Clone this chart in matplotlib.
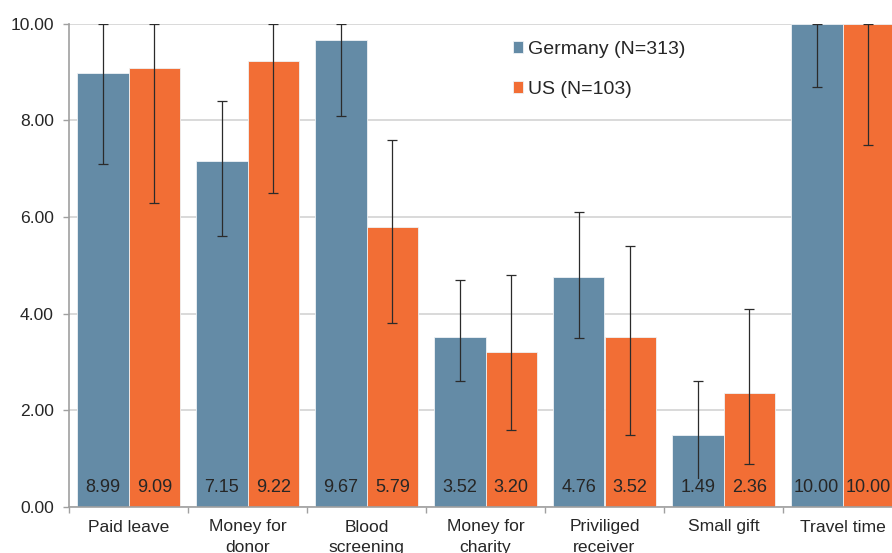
import numpy as np
import matplotlib.pyplot as plt

plt.rcParams['font.family'] = ['Liberation Sans', 'DejaVu Sans']

categories = ['Paid leave', 'Money for\ndonor', 'Blood\nscreening', 'Money for\ncharity',
              'Priviliged\nreceiver', 'Small gift', 'Travel time']
germany = [8.99, 7.15, 9.67, 3.52, 4.76, 1.49, 10.00]
us = [9.09, 9.22, 5.79, 3.20, 3.52, 2.36, 10.00]
# lower / upper ends of the error bars
germany_low = [7.1, 5.6, 8.1, 2.6, 3.5, 0.4, 8.7]
germany_high = [10.0, 8.4, 10.0, 4.7, 6.1, 2.6, 10.0]
us_low = [6.3, 6.5, 3.8, 1.6, 1.5, 0.9, 7.5]
us_high = [10.0, 10.0, 7.6, 4.8, 5.4, 4.1, 10.0]

blue = '#648ba6'
orange = '#f26e35'
txt = '#262626'

fig = plt.figure(figsize=(8.92, 5.53), dpi=100)
ax = fig.add_axes([69/892, 46/553, 952/892, 483.3/553])

x = np.arange(len(categories))
w = 0.433

for vals, lo, hi, off, col, lab in [
        (germany, germany_low, germany_high, -w/2, blue, 'Germany (N=313)'),
        (us, us_low, us_high, w/2, orange, 'US (N=103)')]:
    vals = np.array(vals)
    ax.bar(x + off, vals, w, color=col, edgecolor='#eef2f5', linewidth=0.6, label=lab, zorder=2)
    yerr = [vals - np.array(lo), np.array(hi) - vals]
    ax.errorbar(x + off, vals, yerr=yerr, fmt='none', ecolor='#2b2b2b', elinewidth=0.9,
                capsize=3.6, capthick=0.9, zorder=3)
    for xi, v in zip(x + off, vals):
        ax.annotate('%.2f' % v, (xi, 0), xytext=(0, 13.7), textcoords='offset points',
                    ha='center', va='center', fontsize=13, color=txt, zorder=4,
                    bbox=dict(boxstyle='square,pad=0.05', fc=col, ec='none'))

ax.set_xlim(-0.5, len(categories) + 0.5)
ax.set_ylim(0, 10)
ax.set_yticks(np.arange(0, 10.01, 2))
ax.set_yticklabels(['%.2f' % v for v in np.arange(0, 10.01, 2)])
ax.yaxis.grid(True, color='#d0d0d0', linewidth=1.1, zorder=0)
ax.set_axisbelow(True)

ax.set_xticks(np.arange(-0.5, len(categories) + 0.5, 1))
ax.set_xticklabels([])
ax.set_xticks(x, minor=True)
ax.set_xticklabels(categories, minor=True, linespacing=1.45)
ax.tick_params(axis='x', which='major', length=4, width=1, color='#a0a0a0', direction='out')
ax.tick_params(axis='x', which='minor', length=0, pad=9, labelsize=12.6, labelcolor=txt)
ax.tick_params(axis='y', length=4, width=1, color='#a0a0a0', pad=7, labelsize=12.6, labelcolor=txt)

for s in ['top', 'right']:
    ax.spines[s].set_visible(False)
for s in ['left', 'bottom']:
    ax.spines[s].set_color('#a0a0a0')
    ax.spines[s].set_linewidth(1.2)

ax.legend(loc='upper left', bbox_to_anchor=(503/892, 1 - 31/553), bbox_transform=fig.transFigure,
          frameon=False, fontsize=14, handlelength=0.55, handleheight=0.55, handletextpad=0.25,
          labelspacing=1.2, borderpad=0, labelcolor=txt)

fig.savefig('out.png', dpi=100)
